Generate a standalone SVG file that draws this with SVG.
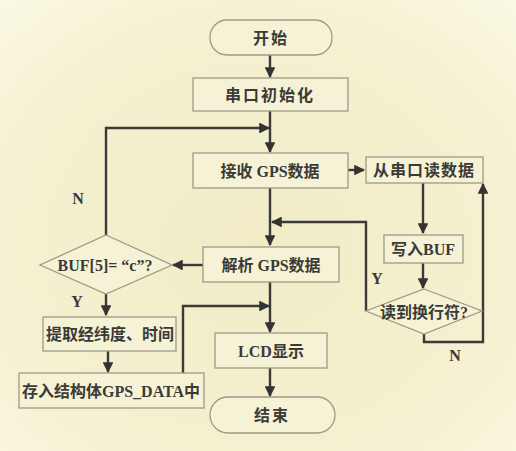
<svg xmlns="http://www.w3.org/2000/svg" width="516" height="451" viewBox="0 0 516 451">
<defs>
<radialGradient id="bg" cx="0.5" cy="0.55" r="0.75">
<stop offset="0" stop-color="#f1ecc6"/>
<stop offset="0.7" stop-color="#f5f1d2"/>
<stop offset="1" stop-color="#fbf9e4"/>
</radialGradient>
<marker id="ah" viewBox="0 0 10 10" refX="9" refY="5" markerWidth="4.5" markerHeight="4.5" orient="auto" markerUnits="strokeWidth">
<path d="M0,0 L10,5 L0,10 z" fill="#333"/>
</marker>
<style>
.box{fill:#f6f2d6;stroke:#9c9a88;stroke-width:1.3}
.t{font-family:"Liberation Serif","Noto Sans CJK SC",serif;font-weight:bold;font-size:16px;fill:#3a3a36;text-anchor:middle;dominant-baseline:central}
.lbl{font-family:"Liberation Serif",serif;font-weight:bold;font-size:16px;fill:#3a3a36;text-anchor:middle;dominant-baseline:central}
.ln{fill:none;stroke:#3a3a38;stroke-width:2.4}
.arr{marker-end:url(#ah)}
</style>
</defs>
<rect x="0" y="0" width="516" height="451" fill="url(#bg)"/>
<g id="connectors">
<path class="ln arr" d="M270,55 V77"/>
<path class="ln arr" d="M270,111 V152"/>
<path class="ln arr" d="M106,235 V128 H269"/>
<path class="ln arr" d="M270,188 V245"/>
<path class="ln arr" d="M348,170 H364"/>
<path class="ln arr" d="M423,183 V233"/>
<path class="ln arr" d="M423,263 V288"/>
<path class="ln arr" d="M424,334 V342 H483 V184"/>
<path class="ln arr" d="M366,311 V222 H272"/>
<path class="ln arr" d="M203,265 H173"/>
<path class="ln arr" d="M106,294 V315"/>
<path class="ln arr" d="M108,351 V372"/>
<path class="ln arr" d="M183,373 V306 H269"/>
<path class="ln arr" d="M270,282 V332"/>
<path class="ln arr" d="M270,368 V396"/>
</g>
<g id="start"><rect class="box" x="210" y="20" width="122" height="35" rx="17" fill="#f8f5de"/><text class="t" x="271" y="38" letter-spacing="2">开始</text></g>
<g id="init"><rect class="box" x="193" y="78" width="155" height="33"/><text class="t" x="270" y="95" letter-spacing="2">串口初始化</text></g>
<g id="recv"><rect class="box" x="193" y="153" width="155" height="35"/><text class="t" x="270" y="171">接收 GPS数据</text></g>
<g id="read"><rect class="box" x="366" y="157" width="117" height="26"/><text class="t" x="424" y="170" font-size="15.5" letter-spacing="1">从串口读数据</text></g>
<g id="write"><rect class="box" x="384" y="235" width="79" height="28"/><text class="t" x="423" y="249">写入BUF</text></g>
<g id="newline"><polygon class="box" points="424,289 482,311 424,334 366,311"/><text class="t" x="424" y="312" font-size="15">读到换行符?</text></g>
<g id="parse"><rect class="box" x="203" y="247" width="136" height="35"/><text class="t" x="271" y="265">解析 GPS数据</text></g>
<g id="check"><polygon class="box" points="106,235 172,265 106,294 40,265"/><text class="t" x="105" y="265" font-size="15">BUF[5]= “c”?</text></g>
<g id="extract"><rect class="box" x="43" y="317" width="133" height="34"/><text class="t" x="110" y="334" font-size="15.5">提取经纬度、时间</text></g>
<g id="store"><rect class="box" x="19" y="373" width="185" height="35"/><text class="t" x="111" y="391" font-size="15">存入结构体GPS_DATA中</text></g>
<g id="lcd"><rect class="box" x="215" y="333" width="112" height="35"/><text class="t" x="271" y="351">LCD显示</text></g>
<g id="end"><rect class="box" x="210" y="397" width="125" height="36" rx="18" fill="#f8f5de"/><text class="t" x="272" y="415" letter-spacing="2">结束</text></g>
<g id="labels">
<text class="lbl" x="78" y="198">N</text>
<text class="lbl" x="77" y="301">Y</text>
<text class="lbl" x="377" y="278">Y</text>
<text class="lbl" x="455" y="355">N</text>
</g>
</svg>
